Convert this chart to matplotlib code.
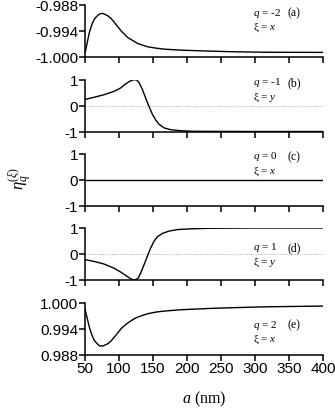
import numpy as np
import matplotlib
matplotlib.use('Agg')
import matplotlib.pyplot as plt

plt.rcParams['font.family'] = ['Liberation Sans', 'DejaVu Sans']
plt.rcParams['axes.unicode_minus'] = False
plt.rcParams['mathtext.fontset'] = 'custom'
plt.rcParams['mathtext.rm'] = 'Liberation Serif'
plt.rcParams['mathtext.it'] = 'Liberation Serif:italic'

# ---- data ----
a_qm2 = [50, 50.5, 53.4, 56.4, 59.8, 63.7, 67.2, 71.1, 76, 83.3, 88.2, 93.1, 98,
         102.9, 107.8, 112.7, 120, 127.4, 134.8, 142.1, 154.4, 166.6, 191.1, 235,
         268, 317, 400]
eta_qm2 = [-0.9990, -0.99892, -0.99667, -0.99443, -0.99272, -0.99133, -0.99071,
           -0.99017, -0.99001, -0.99055, -0.99117, -0.9921, -0.99303, -0.99404,
           -0.99481, -0.99559, -0.99628, -0.99698, -0.99737, -0.99775, -0.99806,
           -0.9983, -0.99853, -0.99876, -0.9989, -0.99902, -0.99905]

a_qm1 = [50, 63.2, 77.9, 92.6, 102.4, 109.8, 117.2, 122.1, 126, 129.4, 134.3,
         139.2, 144.1, 149, 153.9, 158.8, 166.2, 176, 190.7, 207.8, 235, 300, 400]
eta_qm1 = [0.24, 0.32, 0.42, 0.55, 0.68, 0.84, 0.96, 1.0, 0.99, 0.89, 0.63, 0.29,
           -0.03, -0.33, -0.55, -0.72, -0.86, -0.93, -0.97, -0.99, -0.995, -1.0, -1.0]

a_q0 = [50, 400]
eta_q0 = [0, 0]

a_q1 = [50, 63.2, 77.9, 92.6, 102.4, 109.8, 117.2, 121.1, 124.5, 128, 131.9,
        136.8, 141.7, 146.6, 151.5, 156.4, 163.7, 173.5, 185.8, 207.8, 235, 300, 400]
eta_q1 = [-0.22, -0.29, -0.39, -0.55, -0.70, -0.83, -0.96, -1.0, -1.0, -0.94,
          -0.74, -0.42, -0.09, 0.23, 0.49, 0.66, 0.79, 0.88, 0.94, 0.97, 0.99, 1.0, 1.0]

a_q2 = [50, 50.5, 53.4, 56.4, 59.8, 63.7, 67.2, 71.1, 76, 83.3, 88.2, 93.1, 98,
        102.9, 107.8, 112.7, 120, 127.4, 134.8, 142.1, 154.4, 166.6, 191.1, 235,
        268, 317, 400]
eta_q2 = [0.9985, 0.99822, 0.99628, 0.99435, 0.99265, 0.99125, 0.99063, 0.99001,
          0.98994, 0.99048, 0.99110, 0.99203, 0.99295, 0.99396, 0.99466, 0.99528,
          0.99605, 0.99667, 0.99706, 0.99745, 0.99783, 0.99806, 0.99837, 0.99868,
          0.99885, 0.99905, 0.99922]

q_labels = ['-2', '-1', '0', '1', '2']
xi_labels = ['x', 'y', 'x', 'y', 'x']
panel_tags = ['(a)', '(b)', '(c)', '(d)', '(e)']
x_ticks = [50, 100, 150, 200, 250, 300, 350, 400]
yticks_a = [-1.000, -0.994, -0.988]
yticks_mid = [-1, 0, 1]
yticks_e = [0.988, 0.994, 1.000]

series = [(a_qm2, eta_qm2), (a_qm1, eta_qm1), (a_q0, eta_q0), (a_q1, eta_q1), (a_q2, eta_q2)]
yticks_all = [yticks_a, yticks_mid, yticks_mid, yticks_mid, yticks_e]

W, H = 335, 410
fig = plt.figure(figsize=(W / 100, H / 100), dpi=100)

left_px, right_px = 85, 323
tops_px = [5.7, 80.7, 155, 229, 303.7]
panel_h = 51.8
text_y_px = [13, 83, 157, 248, 325]

for i, ((xa, ya), yt) in enumerate(zip(series, yticks_all)):
    top = tops_px[i]
    ax = fig.add_axes([left_px / W, 1 - (top + panel_h) / H,
                       (right_px - left_px) / W, panel_h / H])
    if i in (1, 3):
        ax.axhline(0, color='#999999', lw=0.6, ls=':', zorder=1)
    ax.plot(xa, ya, color='black', lw=1.0, zorder=3, solid_joinstyle='round')
    ax.set_xlim(50, 400)
    ax.set_ylim(yt[0], yt[-1])
    ax.set_xticks(x_ticks)
    ax.set_yticks(yt)
    if i in (0, 4):
        ax.set_yticklabels([f'{v:.3f}' for v in yt])
    else:
        ax.set_yticklabels([str(v) for v in yt])
    if i < 4:
        ax.set_xticklabels([])
    for s in ('top', 'right'):
        ax.spines[s].set_visible(False)
    for s in ('left', 'bottom'):
        ax.spines[s].set_linewidth(1.1)
    ax.tick_params(direction='out', length=4, width=1.1, labelsize=11, pad=1)
    ax.patch.set_alpha(0)

    ty = text_y_px[i]
    fig.text(253 / W, 1 - ty / H, f'$q$ = {q_labels[i]}', family='Liberation Serif',
             fontsize=8, va='center', ha='left')
    fig.text(253 / W, 1 - (ty + 14.5) / H, f'ξ = ${xi_labels[i]}$', family='Liberation Serif',
             fontsize=8, va='center', ha='left')
    fig.text(288 / W, 1 - ty / H, panel_tags[i], family='Liberation Serif',
             fontsize=8.5, va='center', ha='left')

fig.text(20 / W, 1 - 178 / H, r'$\eta_q^{(\xi)}$', rotation=90, fontsize=12,
         va='center', ha='center')
fig.text(204 / W, 1 - 403 / H, '$a$ (nm)', family='Liberation Serif', fontsize=11.5,
         va='baseline', ha='center')

fig.savefig('out.png', dpi=100)
